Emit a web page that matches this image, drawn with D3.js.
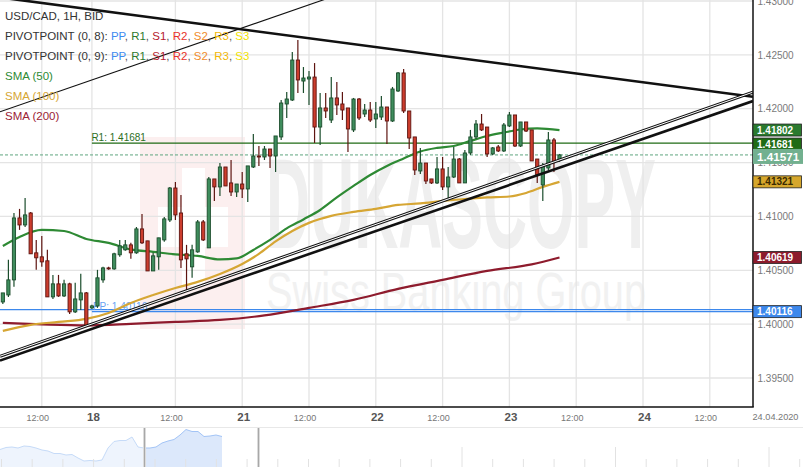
<!DOCTYPE html>
<html><head><meta charset="utf-8">
<script src="https://cdn.jsdelivr.net/npm/d3@7"></script>
<style>
html,body{margin:0;padding:0;background:#fff;}
svg{display:block;font-family:"Liberation Sans",Arial,sans-serif;}
</style></head><body>
<svg id="c" width="803" height="467"></svg>
<script>
// ---------- DATA ----------
const firstIndex = 5; // hourly candle index (0 = 17 Apr 00:00, weekend removed)
const openVals  = [1.40206,1.40271,1.40411,1.40986,1.40921,1.41032,1.40662,1.40625,1.40588,1.40253,1.40374,1.40262,1.40374,1.40114,1.40225,1.40290,1.40151,1.40169,1.40411,1.40522,1.40513,1.40644,1.40690,1.40736,1.40662,1.40884,1.40773,1.40494,1.40625,1.40782,1.40967,1.41264,1.41032,1.40653,1.40532,1.40671,1.40949,1.40708,1.41348,1.41274,1.41459,1.41311,1.41227,1.41301,1.41255,1.41459,1.41561,1.41552,1.41626,1.41561,1.41738,1.42044,1.42081,1.42452,1.42257,1.42276,1.42294,1.41830,1.42007,1.41895,1.42100,1.42044,1.42007,1.41803,1.42090,1.41951,1.41988,1.41905,1.41923,1.42016,1.41886,1.42165,1.42332,1.41979,1.41738,1.41422,1.41496,1.41348,1.41311,1.41441,1.41274,1.41366,1.41533,1.41311,1.41589,1.41738,1.41858,1.41830,1.41580,1.41645,1.41608,1.41840,1.41942,1.41654,1.41877,1.41803,1.41533,1.41292,1.41450,1.41710,1.41524];
const highVals  = [1.40290,1.40597,1.41032,1.41070,1.41172,1.41042,1.40782,1.40819,1.40690,1.40457,1.40457,1.40411,1.40384,1.40384,1.40467,1.40299,1.40179,1.40504,1.40532,1.40532,1.40662,1.40782,1.40782,1.40755,1.40902,1.41023,1.40773,1.40662,1.40801,1.40995,1.41274,1.41320,1.41199,1.40736,1.40736,1.40967,1.40967,1.41366,1.41348,1.41496,1.41459,1.41524,1.41301,1.41413,1.41469,1.41765,1.41654,1.41654,1.41626,1.41747,1.42081,1.42155,1.42526,1.42638,1.42387,1.42350,1.42424,1.42146,1.42146,1.42294,1.42248,1.42155,1.42007,1.42100,1.42100,1.42044,1.42062,1.42062,1.42118,1.42016,1.42202,1.42341,1.42369,1.41979,1.41738,1.41636,1.41496,1.41348,1.41552,1.41552,1.41459,1.41645,1.41543,1.41617,1.41803,1.41895,1.41951,1.41830,1.41645,1.41663,1.41868,1.41970,1.41942,1.41877,1.41877,1.41803,1.41533,1.41496,1.41784,1.41728,1.41580];
const lowVals   = [1.40188,1.40253,1.40346,1.40875,1.40902,1.40653,1.40504,1.40532,1.40253,1.40234,1.40253,1.40253,1.40095,1.40104,1.40132,1.39975,1.40141,1.40151,1.40384,1.40504,1.40504,1.40625,1.40681,1.40606,1.40653,1.40745,1.40494,1.40494,1.40504,1.40764,1.40949,1.40967,1.40522,1.40318,1.40430,1.40662,1.40773,1.40708,1.41144,1.41190,1.41283,1.41190,1.41181,1.41172,1.41134,1.41450,1.41469,1.41524,1.41450,1.41413,1.41710,1.41914,1.42072,1.42146,1.42146,1.42035,1.41682,1.41663,1.41914,1.41868,1.41942,1.41895,1.41598,1.41784,1.41895,1.41923,1.41877,1.41821,1.41895,1.41673,1.41877,1.42155,1.41960,1.41626,1.41385,1.41394,1.41301,1.41301,1.41301,1.41246,1.41162,1.41357,1.41311,1.41311,1.41571,1.41719,1.41793,1.41552,1.41571,1.41598,1.41598,1.41830,1.41645,1.41645,1.41784,1.41515,1.41311,1.41144,1.41431,1.41413,1.41506];
const closeVals = [1.40290,1.40411,1.40986,1.40921,1.41014,1.40653,1.40616,1.40578,1.40253,1.40374,1.40262,1.40374,1.40114,1.40234,1.40290,1.39984,1.40169,1.40430,1.40522,1.40513,1.40653,1.40727,1.40736,1.40662,1.40884,1.40755,1.40494,1.40634,1.40801,1.40977,1.41264,1.41014,1.40597,1.40606,1.40690,1.40949,1.40782,1.41348,1.41274,1.41459,1.41283,1.41227,1.41301,1.41255,1.41469,1.41561,1.41552,1.41626,1.41561,1.41747,1.42053,1.42090,1.42452,1.42267,1.42285,1.42294,1.41830,1.42007,1.41979,1.42100,1.42035,1.41988,1.41812,1.42090,1.41914,1.41988,1.41895,1.41951,1.42016,1.41886,1.42183,1.42332,1.41979,1.41728,1.41431,1.41496,1.41329,1.41311,1.41441,1.41274,1.41366,1.41533,1.41311,1.41589,1.41738,1.41858,1.41803,1.41580,1.41636,1.41608,1.41849,1.41942,1.41654,1.41877,1.41793,1.41515,1.41385,1.41469,1.41710,1.41506,1.41571];

const sma50Idx  = [5,8,12,16,20,24,28,32,36,40,44,47,50,53,56,59,62,65,68,71,74,77,80,83,86,89,92,95,98,101,105];
const sma50Val  = [1.40726,1.40810,1.40875,1.40865,1.40791,1.40754,1.40694,1.40671,1.40648,1.40633,1.40601,1.40610,1.40689,1.40782,1.40889,1.40972,1.41060,1.41176,1.41283,1.41385,1.41469,1.41538,1.41603,1.41636,1.41654,1.41701,1.41747,1.41779,1.41807,1.41817,1.41802];
const sma100Idx = [5,10,15,20,24,28,32,36,40,44,48,51,54,57,60,64,68,72,76,80,84,88,92,96,99,102,105];
const sma100Val = [1.39937,1.39993,1.40021,1.40049,1.40104,1.40197,1.40271,1.40336,1.40392,1.40466,1.40559,1.40652,1.40768,1.40865,1.40940,1.41005,1.41042,1.41070,1.41107,1.41121,1.41144,1.41162,1.41176,1.41185,1.41218,1.41274,1.41321];
const sma200Idx = [5,12,20,28,36,44,52,60,68,76,84,92,100,105];
const sma200Val = [1.40012,1.39998,1.39988,1.40002,1.40021,1.40039,1.40081,1.40151,1.40225,1.40327,1.40411,1.40494,1.40555,1.40619];

const lastPrice = 1.41571;
const pivotPP8 = 1.40116, pivotPP9 = 1.40135, pivotR1 = 1.41681, weekStartIdx = 21;

// drawn trend lines: [startIndex, startPrice, endIndex, endPrice]
const trendThickDown   = [4.49, 1.43033, 139.75, 1.42111];
const trendThinUpper   = [4.49, 1.41972, 65.55, 1.43064];
const trendChannelThin = [4.49, 1.39702, 139.75, 1.42154];
const trendChannelThick= [4.49, 1.39662, 139.75, 1.42071];

const priceTicks = [1.395,1.400,1.405,1.410,1.415,1.420,1.425,1.430];
const timeTickIdx   = [12,21,36,48,60,72,84,96,108,120,132];
const timeTickLabel = ["12:00","18","12:00","21","12:00","22","12:00","23","12:00","24","12:00"];

const markerVals   = [1.41802,1.41681,1.41571,1.41321,1.40619,1.40116];
const markerFill   = ["#2a7a2e","#1f6b14","#72b08f","#d6a72c","#8c1b2c","#3d88ec"];
const markerText   = ["#fff","#fff","#fff","#3a2a00","#fff","#fff"];

const navVals = [1.4075,1.4095,1.4100,1.4090,1.4110,1.4105,1.4090,1.4070,1.4060,1.4035,1.4035,1.4020,1.4025,1.3990,1.3960,1.3965,1.3960,1.3970,1.4090,1.4155,1.4165,1.4165,1.4200,1.4100,1.4090,1.4090,1.4100,1.4140,1.4160,1.4175,1.4220,1.4275,1.4255,1.4255,1.4205,1.4210,1.4220,1.4205];

// ---------- LAYOUT ----------
const W = 803, H = 467, plotR = 753, plotB = 407;
const svg = d3.select('#c');
svg.append('rect').attr('width', W).attr('height', H).attr('fill', '#fff');

const x = d3.scaleLinear().domain([12, 132]).range([41.8, 709.8]);
const y = d3.scaleLinear().domain([1.395, 1.430]).range([378, 1]);

const defs = svg.append('defs');
defs.append('clipPath').attr('id', 'plotClip').append('rect')
  .attr('x', 0).attr('y', 0).attr('width', plotR).attr('height', plotB);

const g = svg.append('g').attr('clip-path', 'url(#plotClip)');

// watermark
const wm = g.append('g');
wm.append('rect').attr('x', 140).attr('y', 137).attr('width', 105).attr('height', 192).attr('fill', '#fcefef');
wm.append('rect').attr('x', 182).attr('y', 168).attr('width', 23).attr('height', 118).attr('fill', '#fff');
wm.append('rect').attr('x', 158).attr('y', 207).attr('width', 70).attr('height', 40).attr('fill', '#fff');
wm.append('text').text('DUKASCOPY').attr('x', 266).attr('y', 248)
  .attr('font-size', 128).attr('font-weight', 'bold').attr('fill', '#efefef')
  .attr('textLength', 390).attr('lengthAdjust', 'spacingAndGlyphs');
wm.append('text').text('Swiss Banking Group').attr('x', 266).attr('y', 310)
  .attr('font-size', 54).attr('fill', '#f1f1f1')
  .attr('textLength', 380).attr('lengthAdjust', 'spacingAndGlyphs');

// grid
g.selectAll('.hg').data(priceTicks).join('line')
  .attr('x1', 0).attr('x2', plotR).attr('y1', d => y(d)).attr('y2', d => y(d))
  .attr('stroke', '#e4e4e4').attr('stroke-width', 1.3);
g.selectAll('.vg').data(timeTickIdx).join('line')
  .attr('x1', d => x(d)).attr('x2', d => x(d)).attr('y1', 0).attr('y2', plotB)
  .attr('stroke', '#e4e4e4').attr('stroke-width', 1.3);

// pivot / price lines
g.append('line').attr('x1', 0).attr('x2', plotR).attr('y1', y(pivotPP9)).attr('y2', y(pivotPP9))
  .attr('stroke', '#3d88ec').attr('stroke-width', 1.2);
g.append('line').attr('x1', x(weekStartIdx)).attr('x2', plotR).attr('y1', y(pivotPP8)).attr('y2', y(pivotPP8))
  .attr('stroke', '#3d88ec').attr('stroke-width', 1.2);
g.append('text').text('PP: ' + pivotPP8.toFixed(5)).attr('x', x(weekStartIdx) + 1).attr('y', y(pivotPP8) - 1.5)
  .attr('font-size', 10).attr('fill', '#6aa3f2');
g.append('line').attr('x1', x(weekStartIdx)).attr('x2', plotR).attr('y1', y(pivotR1)).attr('y2', y(pivotR1))
  .attr('stroke', '#1f6b14').attr('stroke-width', 1.4);
g.append('text').text('R1: ' + pivotR1.toFixed(5)).attr('x', x(weekStartIdx) - 0.5).attr('y', y(pivotR1) - 2.5)
  .attr('font-size', 10).attr('fill', '#2d6e1e');
g.append('line').attr('x1', 0).attr('x2', plotR).attr('y1', y(lastPrice)).attr('y2', y(lastPrice))
  .attr('stroke', '#5ea67f').attr('stroke-width', 1).attr('stroke-dasharray', '3,2');

// SMA lines
const line = d3.line().x(d => x(d[0])).y(d => y(d[1])).curve(d3.curveMonotoneX);
function smaPath(idx, vals, color) {
  g.append('path').datum(idx.map((d, k) => [d, vals[k]])).attr('d', line)
    .attr('fill', 'none').attr('stroke', color).attr('stroke-width', 2.2);
}
smaPath(sma200Idx, sma200Val, '#8e1b2d');
smaPath(sma100Idx, sma100Val, '#d6a634');
smaPath(sma50Idx, sma50Val, '#2e8a34');

// candles
const candles = openVals.map((o, k) => ({i: firstIndex + k, o, h: highVals[k], l: lowVals[k], c: closeVals[k]}));
const cg = g.append('g');
const up = d => d.c >= d.o;
cg.selectAll('.wick').data(candles).join('line')
  .attr('x1', d => x(d.i)).attr('x2', d => x(d.i))
  .attr('y1', d => y(d.h)).attr('y2', d => y(d.l))
  .attr('stroke', d => up(d) ? '#1b4d2c' : '#5e1410').attr('stroke-width', 1.2);
cg.selectAll('.body').data(candles).join('rect')
  .attr('x', d => x(d.i) - 1.6).attr('width', 3.2)
  .attr('y', d => y(Math.max(d.o, d.c)))
  .attr('height', d => Math.max(1, Math.abs(y(d.o) - y(d.c))))
  .attr('fill', d => up(d) ? '#3f8d5d' : '#cc3d2d')
  .attr('stroke', d => up(d) ? '#1b4d2c' : '#5e1410').attr('stroke-width', 0.9);

// trend lines
function tl(t, w, color) {
  g.append('line').attr('x1', x(t[0])).attr('y1', y(t[1])).attr('x2', x(t[2])).attr('y2', y(t[3]))
    .attr('stroke', color).attr('stroke-width', w);
}
tl(trendThickDown, 2.6, '#111');
tl(trendThinUpper, 1.1, '#111');
tl(trendChannelThin, 3, '#111');
tl(trendChannelThin, 1, '#fff');
tl(trendChannelThick, 2.6, '#111');

// legend
const legend = svg.append('g').attr('font-size', 11.5);
const legendRows = [
  [['USD/CAD, 1H, BID', '#333']],
  [['PIVOTPOINT (0, 8): ', '#333'], ['PP', '#3d8af0'], [', ', '#555'], ['R1', '#2d7a2d'], [', ', '#555'], ['S1', '#b5202e'], [', ', '#555'], ['R2', '#e8312a'], [', ', '#555'], ['S2', '#f08c2c'], [', ', '#555'], ['R3', '#f2b705'], [', ', '#555'], ['S3', '#f2e200']],
  [['PIVOTPOINT (0, 9): ', '#333'], ['PP', '#3d8af0'], [', ', '#555'], ['R1', '#2d7a2d'], [', ', '#555'], ['S1', '#b5202e'], [', ', '#555'], ['R2', '#e8312a'], [', ', '#555'], ['S2', '#f08c2c'], [', ', '#555'], ['R3', '#f2b705'], [', ', '#555'], ['S3', '#f2e200']],
  [['SMA (50)', '#2e8a34']],
  [['SMA (100)', '#d6a634']],
  [['SMA (200)', '#9b2335']]
];
legendRows.forEach((row, r) => {
  const t = legend.append('text').attr('x', 5).attr('y', 20 + r * 20);
  row.forEach(([s, c]) => t.append('tspan').text(s).attr('fill', c));
});

// axis frame
svg.append('line').attr('x1', plotR).attr('x2', plotR).attr('y1', 0).attr('y2', plotB)
  .attr('stroke', '#111').attr('stroke-width', 1.5);
svg.append('line').attr('x1', 0).attr('x2', plotR + 0.75).attr('y1', plotB).attr('y2', plotB)
  .attr('stroke', '#111').attr('stroke-width', 1.5);

// price axis
const yAxis = d3.axisRight(y).tickValues(priceTicks).tickFormat(d3.format('.5f')).tickSize(0).tickPadding(0);
const ya = svg.append('g').attr('transform', `translate(${plotR + 4.5},0)`).call(yAxis);
ya.select('.domain').remove();
ya.selectAll('text').attr('font-size', 10).attr('fill', '#7a7a7a').attr('font-family', '"Liberation Sans",Arial,sans-serif');

// time axis
const xAxis = d3.axisBottom(x).tickValues(timeTickIdx).tickFormat((d, k) => timeTickLabel[k]).tickSize(0).tickPadding(0);
const xa = svg.append('g').attr('transform', `translate(0,${plotB + 7})`).call(xAxis);
xa.select('.domain').remove();
xa.selectAll('text').attr('font-family', '"Liberation Sans",Arial,sans-serif')
  .each(function(d, k) {
    const isDay = timeTickLabel[k] !== '12:00';
    d3.select(this).attr('font-size', isDay ? 11.5 : 9).attr('font-weight', isDay ? 'bold' : 'normal')
      .attr('fill', isDay ? '#555' : '#777').attr('dx', isDay ? 1 : -4.5).attr('dy', isDay ? '0.6em' : '0.75em');
  });
svg.append('text').text('24.04.2020').attr('x', 775.5).attr('y', 420).attr('text-anchor', 'middle')
  .attr('font-size', 9.2).attr('fill', '#777');

// price markers on axis
markerVals.forEach((v, k) => {
  const big = k === 2;
  const h = big ? 15 : 12;
  const cy = y(v) + (big ? 1.5 : 0) + (k === 1 ? 1 : 0);
  svg.append('rect').attr('x', plotR).attr('y', cy - h / 2).attr('width', big ? 50 : 48.5).attr('height', h)
    .attr('fill', markerFill[k]).attr('stroke', big ? 'none' : '#222').attr('stroke-width', 0.8);
  svg.append('text').text(v.toFixed(5)).attr('x', plotR + 4).attr('y', cy).attr('dy', '0.36em')
    .attr('font-size', big ? 11.7 : 10).attr('font-weight', 'bold').attr('fill', markerText[k]);
});

// navigator
svg.append('line').attr('x1', 0).attr('x2', W).attr('y1', 427.5).attr('y2', 427.5).attr('stroke', '#e8e8e8');
const navX = d3.scaleLinear().domain([0, navVals.length - 1]).range([0, 222]);
const navY = d3.scaleLinear().domain([1.39, 1.43]).range([467, 427]);
const navArea = d3.area().x((d, k) => navX(k)).y0(467).y1(d => navY(d));
const navLine = d3.line().x((d, k) => navX(k)).y(d => navY(d));
defs.append('clipPath').attr('id', 'navL').append('rect').attr('x', 0).attr('y', 420).attr('width', 144).attr('height', 50);
defs.append('clipPath').attr('id', 'navR').append('rect').attr('x', 144).attr('y', 420).attr('width', 120).attr('height', 50);
const nl = svg.append('g').attr('clip-path', 'url(#navL)');
nl.append('path').datum(navVals).attr('d', navArea).attr('fill', '#eef4fd');
nl.append('path').datum(navVals).attr('d', navLine).attr('fill', 'none').attr('stroke', '#c6dbf8');
const nr = svg.append('g').attr('clip-path', 'url(#navR)');
nr.append('path').datum(navVals).attr('d', navArea).attr('fill', '#dce8fb');
nr.append('path').datum(navVals).attr('d', navLine).attr('fill', 'none').attr('stroke', '#a3c4f6');
const navTicks = d3.range(0, 27).map(k => 1.5 + k * 30.7);
svg.selectAll('.nt').data(navTicks).join('line')
  .attr('x1', d => d).attr('x2', d => d)
  .attr('y1', (d, k) => (k % 5 === 0 && k >= 15) ? 447 : 459).attr('y2', 467)
  .attr('stroke', '#e2e2e2').attr('stroke-width', 1);
[144.5, 258.5].forEach(hx => {
  svg.append('line').attr('x1', hx).attr('x2', hx).attr('y1', 428).attr('y2', 467).attr('stroke', '#e0e0e0').attr('stroke-width', 3);
  svg.append('line').attr('x1', hx).attr('x2', hx).attr('y1', 428).attr('y2', 467).attr('stroke', '#a8a8a8').attr('stroke-width', 1.2);
});
</script>
</body></html>
